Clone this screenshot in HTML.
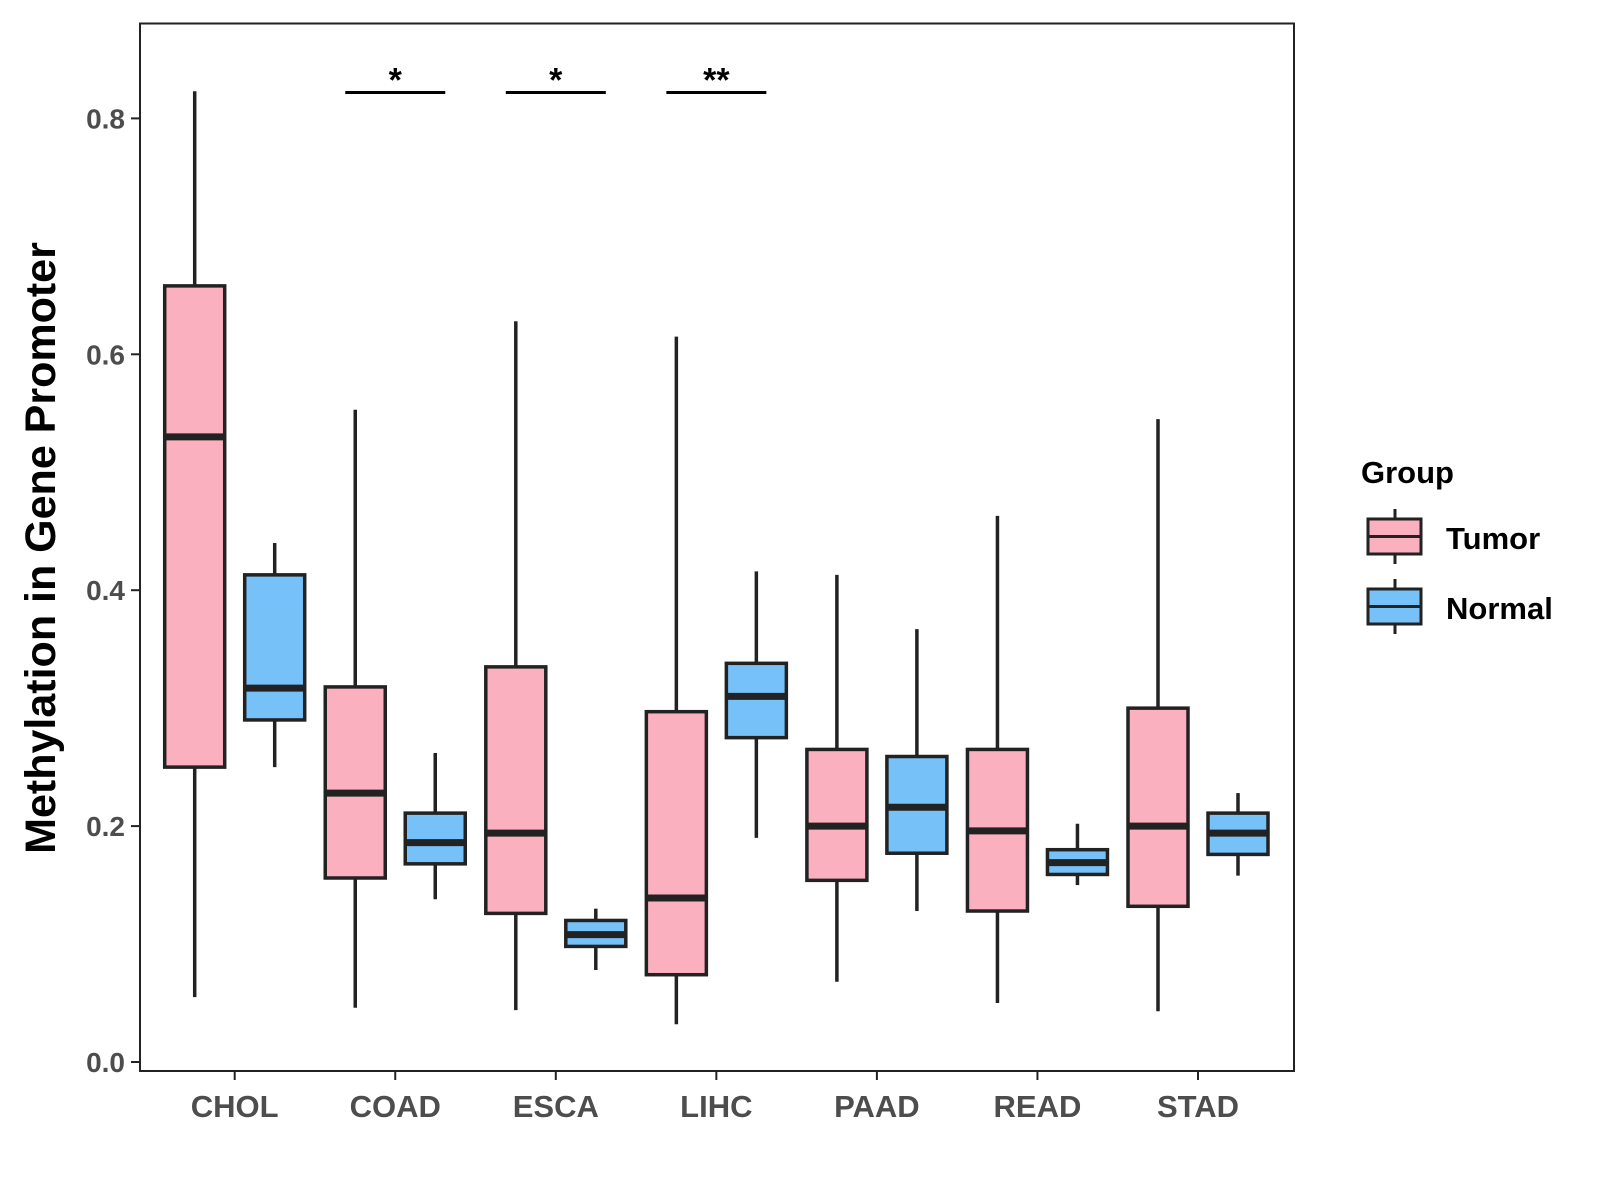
<!DOCTYPE html>
<html><head><meta charset="utf-8"><style>
html,body{margin:0;padding:0;background:#fff;}
svg{display:block;font-family:"Liberation Sans",Arial,sans-serif;}
</style></head><body>
<svg id="chart" width="1600" height="1200" viewBox="0 0 1600 1200">
<rect x="140" y="23.5" width="1154" height="1047.5" fill="#fff" stroke="#222" stroke-width="2"/>
<g id="marks"></g>
<text transform="translate(55,548) rotate(-90)" text-anchor="middle" font-size="43" font-weight="bold" fill="#000">Methylation in Gene Promoter</text>
<g>
<text x="1361" y="483" font-size="31" font-weight="bold" fill="#000">Group</text>
<g>
<line x1="1395" y1="509" x2="1395" y2="564" stroke="#222" stroke-width="3"/>
<rect x="1368" y="519" width="53" height="35" fill="#FBB0C0" stroke="#222" stroke-width="3"/>
<line x1="1368" y1="536.5" x2="1421" y2="536.5" stroke="#222" stroke-width="3"/>
<text x="1446" y="549" font-size="31" font-weight="bold" fill="#000">Tumor</text>
</g>
<g>
<line x1="1395" y1="579" x2="1395" y2="634" stroke="#222" stroke-width="3"/>
<rect x="1368" y="589" width="53" height="35" fill="#76C1F8" stroke="#222" stroke-width="3"/>
<line x1="1368" y1="606.5" x2="1421" y2="606.5" stroke="#222" stroke-width="3"/>
<text x="1446" y="619" font-size="31" font-weight="bold" fill="#000">Normal</text>
</g>
</g>
</svg>
<script>
const categories=["CHOL","COAD","ESCA","LIHC","PAAD","READ","STAD"];
const tumorMin=[0.055,0.046,0.044,0.032,0.068,0.050,0.043];
const tumorQ1=[0.250,0.156,0.126,0.074,0.154,0.128,0.132];
const tumorMed=[0.530,0.228,0.194,0.139,0.200,0.196,0.200];
const tumorQ3=[0.658,0.318,0.335,0.297,0.265,0.265,0.300];
const tumorMax=[0.823,0.553,0.628,0.615,0.413,0.463,0.545];
const normalMin=[0.250,0.138,0.078,0.190,0.128,0.150,0.158];
const normalQ1=[0.290,0.168,0.098,0.275,0.177,0.159,0.176];
const normalMed=[0.317,0.186,0.108,0.310,0.216,0.169,0.194];
const normalQ3=[0.413,0.211,0.120,0.338,0.259,0.180,0.211];
const normalMax=[0.440,0.262,0.130,0.416,0.367,0.202,0.228];
const yTicks=[0,0.2,0.4,0.6,0.8];
const yTickLabels=["0.0","0.2","0.4","0.6","0.8"];
const sigCats=["COAD","ESCA","LIHC"];
const sigLabels=["*","*","**"];
const sigLevel=[0.822,0.822,0.822];

const NS="http://www.w3.org/2000/svg";
const g=document.getElementById('marks');
function y(v){return 1062-v*1179.5;}
function x(i){return 234.7+i*160.55;}
function mk(t,a,parent){const e=document.createElementNS(NS,t);for(const k in a)e.setAttribute(k,a[k]);(parent||g).appendChild(e);return e;}
yTicks.forEach((v,i)=>{
  const l=mk('line',{x1:131,x2:140,y1:y(v),y2:y(v),stroke:'#222','stroke-width':2});
  
  
  const t=mk('text',{x:125,y:y(v)+10,'text-anchor':'end','font-size':28,'font-weight':'bold',fill:'#4d4d4d'});
  t.textContent=yTickLabels[i];
  
  
});
categories.forEach((c,i)=>{
  const l=mk('line',{x1:x(i),x2:x(i),y1:1071,y2:1080,stroke:'#222','stroke-width':2});
  
  
  const t=mk('text',{x:x(i),y:1117,'text-anchor':'middle','font-size':31,'font-weight':'bold',fill:'#4d4d4d'});
  t.textContent=c;
  
  
});
function box(cx,mn,q1,md,q3,mx,fill,name){
  const grp=mk('g',{});
  
  
  const w=30;
  mk('line',{x1:cx,x2:cx,y1:y(mx),y2:y(q3),stroke:'#222','stroke-width':3.5},grp);
  mk('line',{x1:cx,x2:cx,y1:y(q1),y2:y(mn),stroke:'#222','stroke-width':3.5},grp);
  mk('rect',{x:cx-w,y:y(q3),width:2*w,height:y(q1)-y(q3),fill:fill,stroke:'#222','stroke-width':3.5},grp);
  mk('line',{x1:cx-w,x2:cx+w,y1:y(md),y2:y(md),stroke:'#222','stroke-width':7},grp);
}
categories.forEach((c,i)=>{
  box(x(i)-40,tumorMin[i],tumorQ1[i],tumorMed[i],tumorQ3[i],tumorMax[i],'#FBB0C0','box-tumor-'+c.toLowerCase());
  box(x(i)+40,normalMin[i],normalQ1[i],normalMed[i],normalQ3[i],normalMax[i],'#76C1F8','box-normal-'+c.toLowerCase());
});
sigCats.forEach((c,k)=>{
  const i=categories.indexOf(c);
  const l=mk('line',{x1:x(i)-50,x2:x(i)+50,y1:y(sigLevel[k]),y2:y(sigLevel[k]),stroke:'#000','stroke-width':3});
  
  
  const t=mk('text',{x:x(i),y:y(sigLevel[k])-1,'text-anchor':'middle','font-size':34,'font-weight':'bold',fill:'#000'});
  t.textContent=sigLabels[k];
  
  
});
</script>
</body></html>
